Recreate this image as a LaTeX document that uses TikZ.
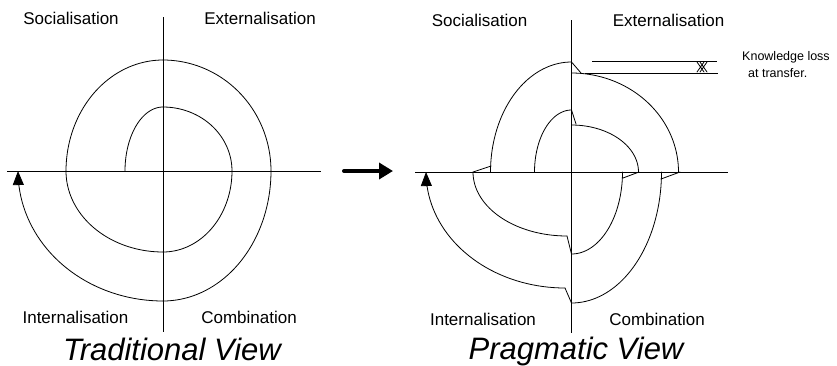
\documentclass[tikz,border=0pt]{standalone}
\usepackage{fontspec}
\setmainfont{Liberation Sans}
\usetikzlibrary{arrows.meta}
\newcommand\earc[7][]{\draw[curve,#1] plot[domain=#6:#7,samples=40,variable=\t] ({#2+#4*cos(\t)},{#3-#5*sin(\t)});}
\begin{document}
\begin{tikzpicture}[x=1pt,y=-1pt,
  lbl/.style={font=\fontsize{17}{20}\selectfont, anchor=base, inner sep=0pt},
  ttl/.style={font=\fontsize{31}{36}\selectfont\itshape, anchor=base, inner sep=0pt},
  note/.style={font=\fontsize{12.5}{15}\selectfont, anchor=base west, inner sep=0pt},
  axis/.style={line width=1pt},
  curve/.style={line width=0.8pt, line cap=round, line join=round},
  tipend/.style={-{Triangle[length=14pt,width=11pt]}}]
\fill[white] (0,0) rectangle (837,365);
\useasboundingbox (0,0) rectangle (837,365);

% ---------- Left: Traditional view ----------
\coordinate (lt) at (163,17);  \coordinate (lb) at (163,332);
\coordinate (ll) at (7,171);   \coordinate (lr) at (321,171);
\draw[axis] (lt) -- (lb);
\draw[axis] (ll) -- (lr);
\earc{163}{171}{38}{64}{180}{90}
\earc{163}{171}{69}{64}{90}{0}
\earc{163}{171}{69}{81}{0}{-90}
\earc{163}{171}{97}{81}{-90}{-180}
\earc{163}{171}{97}{111}{180}{90}
\earc{163}{171}{108}{111}{90}{0}
\earc{163}{171}{108}{130}{0}{-90}
\earc[tipend]{163}{171}{145}{130}{-90}{-180}

\node[lbl] (ls) at (71,24) {Socialisation};
\node[lbl] (le) at (260,24) {Externalisation};
\node[lbl] (li) at (75.5,323) {Internalisation};
\node[lbl] (lc) at (249,323) {Combination};
\node[ttl] (ltv) at (172,360) {Traditional View};

% ---------- middle arrow ----------
\coordinate (ma) at (344,171); \coordinate (mb) at (393,171);
\draw[line width=4pt, line cap=round, -{Triangle[length=14pt,width=16pt]}] (ma) -- (mb);

% ---------- Right: Pragmatic view ----------
\coordinate (rt) at (571.5,20);  \coordinate (rb) at (571.5,333);
\coordinate (rl) at (415,172);   \coordinate (rr) at (728,172);
\draw[axis] (rt) -- (rb);
\draw[axis] (rl) -- (rr);
% inner loop
\earc{571.5}{172}{37}{62}{180}{90}
\draw[curve] (571.5,110) -- (576,124);
\earc{571.5}{172}{67}{47}{90}{0}
\draw[curve] (639,172) -- (623,178);
\earc{571.5}{172}{51}{82}{0}{-90}
\draw[curve] (571.5,254) -- (567,236);
\earc{567}{172}{94}{64}{-90}{-180}
\draw[curve] (473,172) -- (491,166);
% outer loop
\earc{571.5}{172}{81}{110}{180}{90}
\draw[curve] (571.5,62) -- (581,73);
\earc{571.5}{172}{107}{99}{90}{0}
\draw[curve] (680,172) -- (661,179);
\earc{571.5}{172}{90}{131}{0}{-90}
\draw[curve] (571.5,303) -- (565,288);
\earc[tipend]{565}{172}{139}{116}{-90}{-180}

% knowledge loss marker
\coordinate (k1a) at (592,61); \coordinate (k1b) at (717,61);
\coordinate (k2a) at (585,73); \coordinate (k2b) at (718,73);
\draw[axis] (k1a) -- (k1b);
\draw[axis] (k2a) -- (k2b);
\draw[curve] (697,62) -- (704,72) (704,62) -- (697,72)
             (700,62) -- (707,72) (707,62) -- (700,72);

\node[lbl] (rs) at (479.5,26) {Socialisation};
\node[lbl] (re) at (668.5,26) {Externalisation};
\node[lbl] (ri) at (483,325) {Internalisation};
\node[lbl] (rc) at (657,325) {Combination};
\node[ttl] (rpv) at (576,359) {Pragmatic View};
\node[note] (kl) at (742,60) {Knowledge loss};
\node[note] (kt) at (748,77) {at transfer.};
\end{tikzpicture}
\end{document}
